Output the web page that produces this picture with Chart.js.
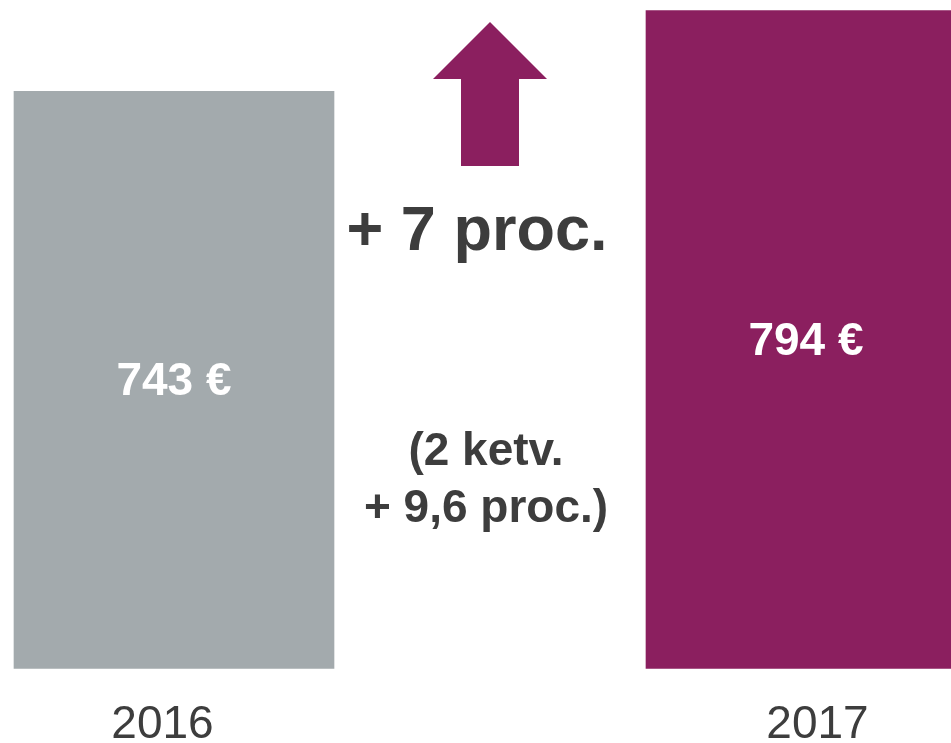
<!DOCTYPE html>
<html>
<head>
<meta charset="utf-8">
<script src="https://cdn.jsdelivr.net/npm/chart.js@4.4.1/dist/chart.umd.min.js"></script>
<style>
  html, body { margin: 0; padding: 0; background: #fff; overflow: hidden; }
  #wrap { width: 980px; height: 782px; }
</style>
</head>
<body>
<div id="wrap"><canvas id="chart"></canvas></div>
<script>
// data
const years = ["2016", "", "2017"];
const wages = [743, null, 794];
const barColors = ["#A3AAAD", "#FFFFFF", "#8B1F5F"];
const growthText = "+ 7 proc.";
const quarterText = ["(2 ketv.", "+ 9,6 proc.)"];

const textColor = "#3D3D3D";
const fontFamily = '"Liberation Sans", Arial, sans-serif';

// value labels, arrow and the growth notes
const notes = {
  id: "notes",
  afterDatasetsDraw(chart) {
    const ctx = chart.ctx;
    const meta = chart.getDatasetMeta(0);
    const area = chart.chartArea;
    const top = area.top;
    ctx.save();
    ctx.textAlign = "center";
    ctx.textBaseline = "alphabetic";

    ctx.fillStyle = "#fff";
    ctx.font = "bold 46px " + fontFamily;
    meta.data.forEach((bar, i) => {
      if (wages[i] == null) return;
      const y = (bar.y + area.bottom) / 2;
      ctx.fillText(wages[i] + " €", bar.x, y + 15);
    });

    // arrow over the middle slot
    const cx = chart.scales.x.getPixelForValue(1);
    ctx.fillStyle = "#8B1F5F";
    ctx.beginPath();
    ctx.moveTo(cx, top + 21);
    ctx.lineTo(cx + 57, top + 78);
    ctx.lineTo(cx + 29, top + 78);
    ctx.lineTo(cx + 29, top + 165);
    ctx.lineTo(cx - 29, top + 165);
    ctx.lineTo(cx - 29, top + 78);
    ctx.lineTo(cx - 57, top + 78);
    ctx.closePath();
    ctx.fill();

    ctx.fillStyle = textColor;
    ctx.font = "bold 63px " + fontFamily;
    ctx.fillText(growthText, cx - 13, top + 249);

    ctx.font = "bold 46px " + fontFamily;
    ctx.fillText(quarterText[0], cx - 4, top + 464);
    ctx.fillText(quarterText[1], cx - 4, top + 521);
    ctx.restore();
  }
};

const ctx = document.getElementById("chart").getContext("2d");
const myChart = new Chart(ctx, {
  type: "bar",
  data: {
    labels: years,
    datasets: [
      {
        data: wages,
        backgroundColor: barColors,
        barThickness: 320,
        borderWidth: 0,
        clip: { left: 4, right: 20, top: 0, bottom: 0 }
      }
    ]
  },
  options: {
    responsive: true,
    maintainAspectRatio: false,
    animation: false,
    layout: { padding: { left: 16, right: 16, top: 1, bottom: 0 } },
    plugins: {
      legend: { display: false },
      tooltip: { enabled: false }
    },
    scales: {
      x: {
        grid: { display: false, drawTicks: false },
        border: { display: false },
        ticks: {
          color: textColor,
          padding: 29,
          font: { family: fontFamily, size: 46 },
          callback: function(value, i) {
            const label = years[i];
            if (i === 0) return label + "\u2002";
            if (i === 2) return "\u2002" + label;
            return label;
          }
        }
      },
      y: {
        display: false,
        min: 379,
        max: 800
      }
    }
  },
  plugins: [notes]
});
</script>
</body>
</html>
